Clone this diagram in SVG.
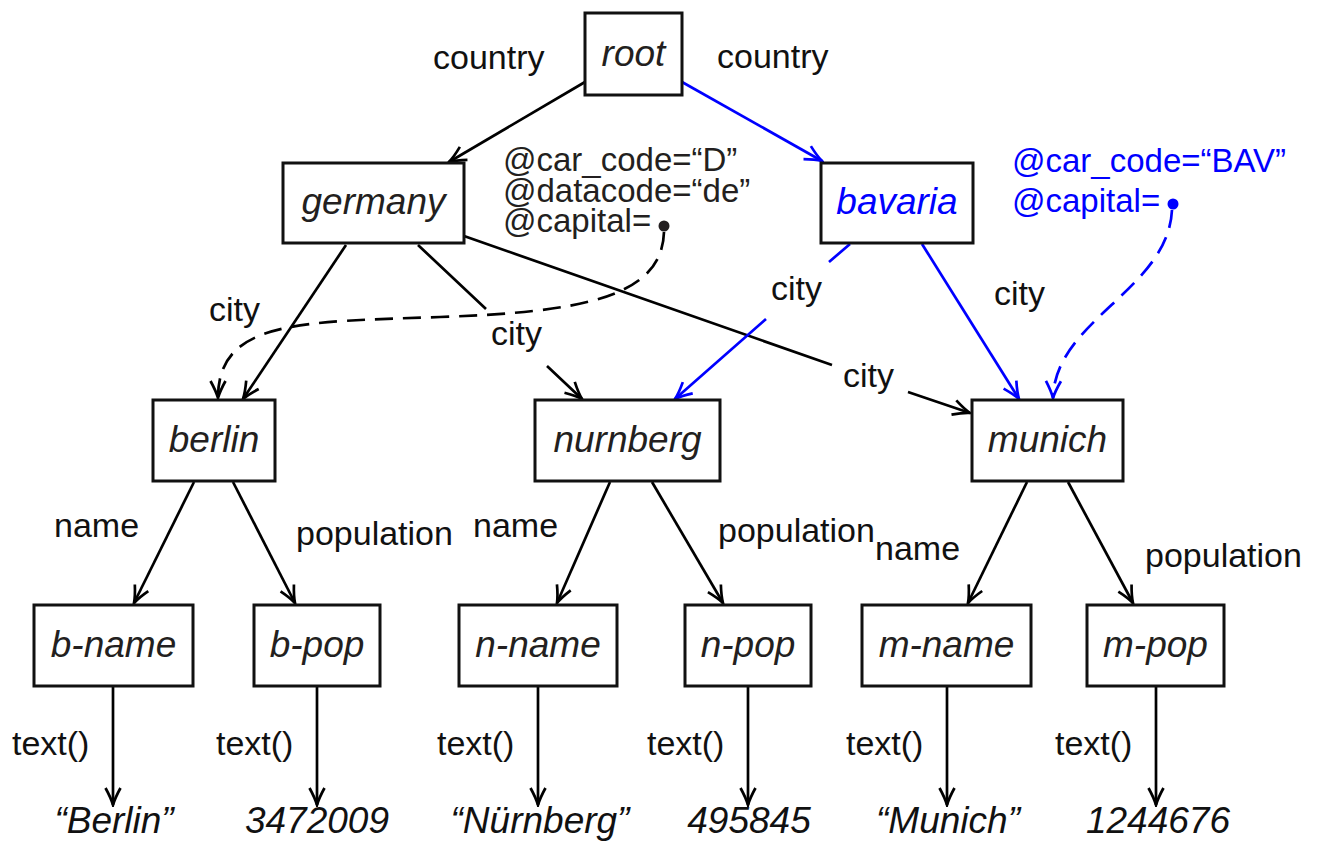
<svg xmlns="http://www.w3.org/2000/svg" width="1323" height="842" viewBox="0 0 1323 842">
  <defs>
    <style>
      .box { fill: #ffffff; stroke: #111111; stroke-width: 3; }
      .node { font-family: "Liberation Sans", Arial, sans-serif; font-style: italic; font-size: 37px; fill: #231f20; text-anchor: middle; }
      .val { font-family: "Liberation Sans", Arial, sans-serif; font-style: italic; font-size: 37px; fill: #111111; text-anchor: middle; }
      .lbl { font-family: "Liberation Sans", Arial, sans-serif; font-size: 34px; fill: #111111; }
      .attr { font-family: "Liberation Sans", Arial, sans-serif; font-size: 33px; fill: #231f20; }
      .blue { fill: #0000ff; }
      .edge { fill: none; stroke: #000000; stroke-width: 2.7; marker-end: url(#arrow); }
      .edge-b { fill: none; stroke: #0000ff; stroke-width: 2.7; marker-end: url(#arrow-b); }
      .ref { fill: none; stroke: #000000; stroke-width: 2.7; stroke-dasharray: 18 10; marker-end: url(#arrow); }
      .ref-b { fill: none; stroke: #0000ff; stroke-width: 2.7; stroke-dasharray: 18 10; marker-end: url(#arrow-b); }
    </style>
    <marker id="arrow" viewBox="-19 -10 21 20" refX="0" refY="0" markerWidth="21" markerHeight="20" markerUnits="userSpaceOnUse" orient="auto">
      <path d="M-17,-7.5 Q-7,-2 0,0 Q-7,2 -17,7.5" fill="none" stroke="#000000" stroke-width="2.7" stroke-dasharray="none"/>
    </marker>
    <marker id="arrow-b" viewBox="-19 -10 21 20" refX="0" refY="0" markerWidth="21" markerHeight="20" markerUnits="userSpaceOnUse" orient="auto">
      <path d="M-17,-7.5 Q-7,-2 0,0 Q-7,2 -17,7.5" fill="none" stroke="#0000ff" stroke-width="2.7" stroke-dasharray="none"/>
    </marker>
  </defs>

  <rect width="1323" height="842" fill="#ffffff"/>

  <!-- edges -->
  <g id="connectors">
    <path class="edge" d="M585,82 L449,162"/>
    <path class="edge-b" d="M682,82 L822,161"/>
    <path class="edge" d="M346,245 L243,399"/>
    <path class="edge" d="M418,245 L486,309 M547,366 L582,399"/>
    <path class="edge" d="M464,236 L832,365 M908,392 L970,413"/>
    <path class="edge-b" d="M850,244 L829,262 M766,319 L675,399"/>
    <path class="edge-b" d="M922,244 L1019,399"/>
    <path class="ref" d="M664,232 C662,298 580,312 440,317 C300,322 218,320 218,398"/>
    <path class="ref-b" d="M1172,210 C1168,290 1055,320 1053,398"/>

    <path class="edge" d="M194,482 L134,603"/>
    <path class="edge" d="M233,482 L295,603"/>
    <path class="edge" d="M610,482 L557,603"/>
    <path class="edge" d="M652,482 L723,603"/>
    <path class="edge" d="M1027,482 L968,603"/>
    <path class="edge" d="M1068,482 L1133,603"/>

    <path class="edge" d="M113,686 L113,805"/>
    <path class="edge" d="M317,686 L317,805"/>
    <path class="edge" d="M538,686 L538,805"/>
    <path class="edge" d="M748,686 L748,805"/>
    <path class="edge" d="M947,686 L947,805"/>
    <path class="edge" d="M1156,686 L1156,805"/>
  </g>

  <!-- edge labels -->
  <g id="edge-labels" class="lbl">
    <text x="433" y="69">country</text>
    <text x="717" y="68">country</text>
    <text x="209" y="321">city</text>
    <text x="491" y="345">city</text>
    <text x="771" y="300">city</text>
    <text x="994" y="305">city</text>
    <text x="843" y="387">city</text>
    <text x="54" y="537">name</text>
    <text x="296" y="545">population</text>
    <text x="473" y="537">name</text>
    <text x="718" y="542">population</text>
    <text x="875" y="560">name</text>
    <text x="1145" y="567">population</text>
    <text x="12" y="755">text()</text>
    <text x="216" y="755">text()</text>
    <text x="437" y="755">text()</text>
    <text x="647" y="755">text()</text>
    <text x="846" y="755">text()</text>
    <text x="1055" y="755">text()</text>
  </g>

  <!-- attributes -->
  <g id="germany-attrs" class="attr">
    <text x="503" y="171">@car_code=“D”</text>
    <text x="503" y="202">@datacode=“de”</text>
    <text x="503" y="232">@capital=</text>
    <circle cx="664" cy="226" r="5.5" fill="#231f20"/>
  </g>
  <g id="bavaria-attrs" class="attr blue">
    <text x="1012" y="172">@car_code=“BAV”</text>
    <text x="1012" y="212">@capital=</text>
    <circle cx="1173" cy="204" r="5.5" fill="#0000ff"/>
  </g>

  <!-- nodes -->
  <g id="root"><rect class="box" x="585" y="13" width="97" height="82"/><text class="node" x="633.5" y="66">root</text></g>
  <g id="germany"><rect class="box" x="283" y="163" width="181" height="80"/><text class="node" x="373.5" y="214">germany</text></g>
  <g id="bavaria"><rect class="box" x="821" y="163" width="152" height="80"/><text class="node blue" x="897" y="214">bavaria</text></g>
  <g id="berlin"><rect class="box" x="153" y="400" width="122" height="81"/><text class="node" x="214" y="452">berlin</text></g>
  <g id="nurnberg"><rect class="box" x="535" y="400" width="185" height="81"/><text class="node" x="627.5" y="452">nurnberg</text></g>
  <g id="munich"><rect class="box" x="972" y="400" width="151" height="81"/><text class="node" x="1047.5" y="452">munich</text></g>
  <g id="b-name"><rect class="box" x="34" y="605" width="159" height="81"/><text class="node" x="113.5" y="657">b-name</text></g>
  <g id="b-pop"><rect class="box" x="254" y="605" width="126" height="81"/><text class="node" x="317" y="657">b-pop</text></g>
  <g id="n-name"><rect class="box" x="459" y="605" width="158" height="81"/><text class="node" x="538" y="657">n-name</text></g>
  <g id="n-pop"><rect class="box" x="685" y="605" width="126" height="81"/><text class="node" x="748" y="657">n-pop</text></g>
  <g id="m-name"><rect class="box" x="862" y="605" width="169" height="81"/><text class="node" x="946.5" y="657">m-name</text></g>
  <g id="m-pop"><rect class="box" x="1087" y="605" width="137" height="81"/><text class="node" x="1155.5" y="657">m-pop</text></g>

  <!-- text values -->
  <g id="v-berlin"><text class="val" x="114" y="833">“Berlin”</text></g>
  <g id="v-bpop"><text class="val" x="317" y="833">3472009</text></g>
  <g id="v-nurnberg"><text class="val" x="540" y="833">“Nürnberg”</text></g>
  <g id="v-npop"><text class="val" x="749" y="833">495845</text></g>
  <g id="v-munich"><text class="val" x="948" y="833">“Munich”</text></g>
  <g id="v-mpop"><text class="val" x="1158" y="833">1244676</text></g>
</svg>
